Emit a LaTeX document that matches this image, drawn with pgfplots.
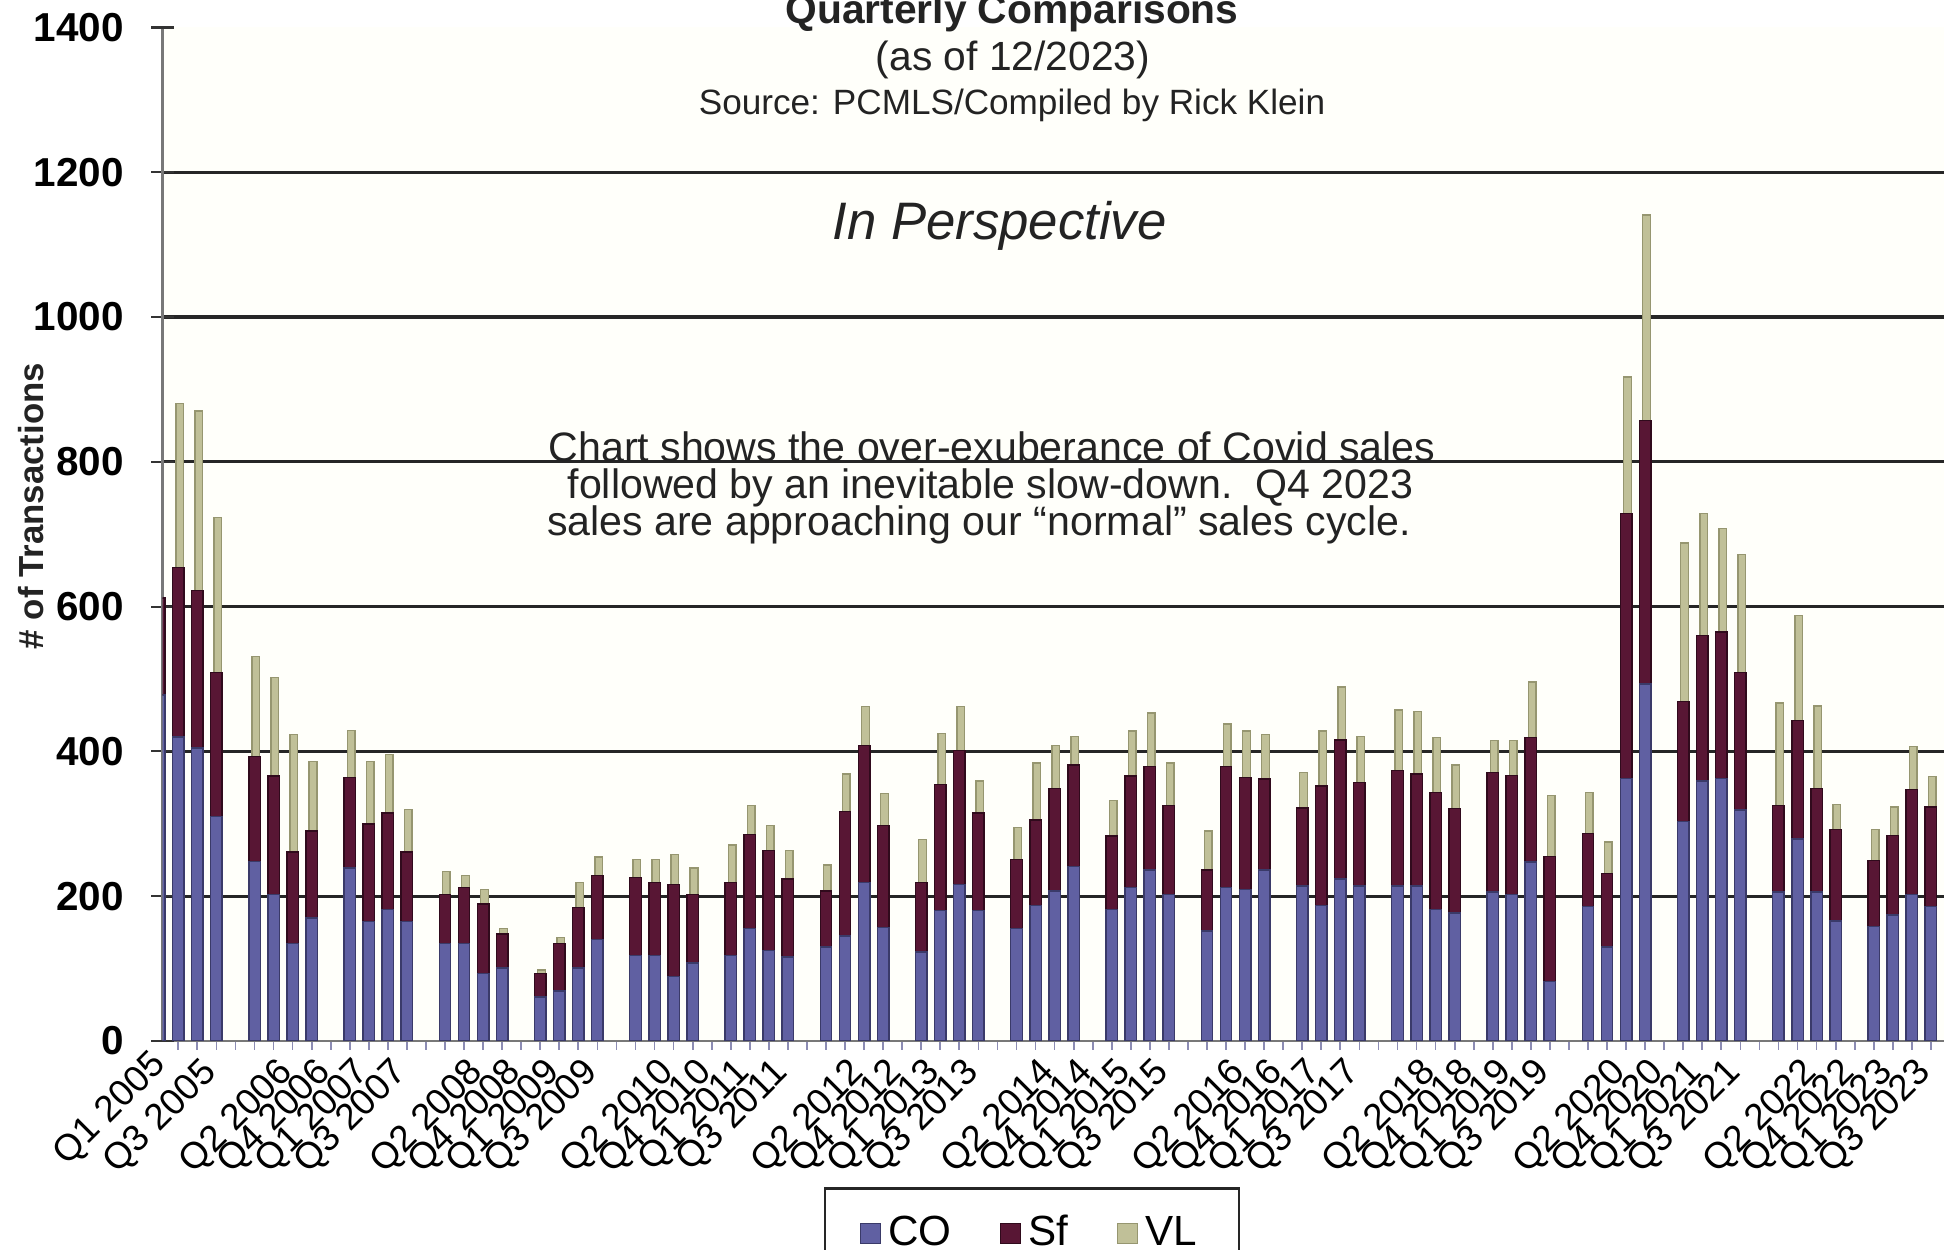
\documentclass[border=0pt]{standalone}
\usepackage{fontspec}
\setmainfont{Liberation Sans}
\usepackage{pgfplots}
\pgfplotsset{compat=1.18}
\usepackage{pgfplotstable}

\definecolor{coF}{RGB}{96,96,162}
\definecolor{coD}{RGB}{58,58,105}
\definecolor{sfF}{RGB}{88,22,52}
\definecolor{sfD}{RGB}{48,10,28}
\definecolor{vlF}{RGB}{192,192,152}
\definecolor{vlD}{RGB}{150,150,112}
\definecolor{txt}{RGB}{35,35,35}

% slot = 5*(year-2005) + (quarter-1); slots 4,9,14,... are the gaps between years
\pgfplotstableread{
x  co  sf  vl
0  478 134 0
1  420 234 227
2  405 217 248
3  310 199 214
5  248 145 138
6  202 164 136
7  135 126 162
8  170 120 96
10 239 125 65
11 165 135 86
12 182 133 81
13 165 96  59
15 135 67  32
16 135 77  17
17 93  96  20
18 101 47  7
20 61  32  5
21 69  66  8
22 101 83  35
23 140 89  25
25 118 108 25
26 118 101 32
27 89  127 42
28 108 94  37
30 118 101 52
31 155 130 40
32 125 138 35
33 116 108 39
35 130 77  36
36 145 172 52
37 219 189 54
38 157 141 44
40 123 96  59
41 180 174 71
42 216 185 61
43 180 135 44
45 155 96  44
46 187 118 79
47 207 142 59
48 241 140 40
50 182 101 49
51 212 154 62
52 236 143 74
53 202 123 59
55 152 84  54
56 212 167 59
57 209 155 64
58 236 126 61
60 214 108 49
61 187 165 76
62 224 192 73
63 214 143 64
65 214 160 83
66 214 155 86
67 182 161 76
68 177 144 60
70 206 165 44
71 202 165 48
72 247 172 77
73 82  173 84
75 186 101 56
76 130 101 44
77 363 366 188
78 493 364 284
80 303 166 219
81 359 201 169
82 363 202 143
83 319 190 163
85 206 119 142
86 279 164 145
87 206 143 114
88 166 126 35
90 158 91  43
91 174 110 39
92 202 145 60
93 186 137 42
}\datatable

\tikzset{xlab/.style={font=\fontsize{10.5}{12}\selectfont, rotate=45, anchor=east, inner sep=0pt}}

\begin{document}
\begin{tikzpicture}
\begin{axis}[
  at={(1.627cm,2.09cm)}, anchor=south west,
  scale only axis, width=17.813cm, height=10.135cm,
  xmin=0.18, xmax=93.69, ymin=0, ymax=1400,
  ybar stacked, bar width=0.6,
  axis x line=bottom, axis y line=left,
  axis line style={-, draw={rgb,255:red,120;green,120;blue,120}, line width=0.8pt},
  axis background/.style={fill={rgb,255:red,255;green,255;blue,250}},
  ytick={200,400,...,1200}, extra y ticks={0,1400}, extra y tick style={grid=none},
  ymajorgrids, major grid style={draw=black!85, line width=0.9pt},
  ytick align=center,
  ytick style={draw=black!80, line width=0.6pt, /pgfplots/major tick length=0.23cm},
  yticklabel style={font=\bfseries\fontsize{11.5}{13}\selectfont, xshift=-0.19cm},
  /pgf/number format/assume math mode=true, /pgf/number format/1000 sep={},
  xtick={2,4,...,92},
  xticklabels={Q3 2005,{},Q2 2006,Q4 2006,Q1 2007,Q3 2007,{},Q2 2008,Q4 2008,Q1 2009,Q3 2009,{},
    Q2 2010,Q4 2010,Q1 2011,Q3 2011,{},Q2 2012,Q4 2012,Q1 2013,Q3 2013,{},
    Q2 2014,Q4 2014,Q1 2015,Q3 2015,{},Q2 2016,Q4 2016,Q1 2017,Q3 2017,{},
    Q2 2018,Q4 2018,Q1 2019,Q3 2019,{},Q2 2020,Q4 2020,Q1 2021,Q3 2021,{},
    Q2 2022,Q4 2022,Q1 2023,Q3 2023},
  minor xtick={1,3,...,93},
  xtick align=outside,
  xtick style={draw={rgb,255:red,140;green,140;blue,180}, line width=0.5pt, /pgfplots/major tick length=0.09cm, /pgfplots/minor tick length=0.09cm},
  xticklabel style={/tikz/xlab, xshift=0.02cm, yshift=-0.18cm},
  legend columns=3,
  legend style={at={(0.488,-0.144)}, anchor=north, draw=black!85, line width=0.8pt,
    font=\fontsize{12}{14}\selectfont, inner xsep=0.35cm, inner ysep=0.2cm,
    /tikz/every even column/.append style={column sep=0.42cm}},
  legend image code/.code={\draw[#1, line width=0.3pt] (0cm,-0.1cm) rectangle (0.2cm,0.1cm);},
]
\addplot[fill=coF, draw=coD, line width=0.4pt] table[x=x, y=co]{\datatable};
\addlegendentry{CO}
\addplot[fill=sfF, draw=sfD, line width=0.4pt] table[x=x, y=sf]{\datatable};
\addlegendentry{Sf}
\addplot[fill=vlF, draw=vlD, line width=0.4pt, bar width=0.4, bar shift=0.07] table[x=x, y=vl]{\datatable};
\addlegendentry{VL}
\coordinate (q1) at (axis cs:0,0);
\end{axis}

\node[xlab] at ([xshift=0.02cm, yshift=-0.18cm]q1) {Q1 2005};

\node[font=\bfseries\fontsize{11.6}{13}\selectfont, anchor=base, text=txt] at (10.12,12.26) {Quarterly Comparisons};
\node[font=\fontsize{11.6}{13}\selectfont, anchor=base, text=txt] at (10.13,11.79) {(as of 12/2023)};
\node[font=\fontsize{10}{12}\selectfont, anchor=base, text=txt] at (10.12,11.35) {Source: PCMLS/Compiled by Rick Klein};
\node[font=\itshape\fontsize{15}{18}\selectfont, anchor=base, text=txt] at (9.995,10.10) {In Perspective};
\node[font=\fontsize{11.7}{13}\selectfont, anchor=base, text=txt] at (9.92,7.88) {Chart shows the over-exuberance of Covid sales};
\node[font=\fontsize{11.7}{13}\selectfont, anchor=base, text=txt] at (9.905,7.515) {followed by an inevitable slow-down.\ \ Q4 2023};
\node[font=\fontsize{11.7}{13}\selectfont, anchor=base, text=txt] at (9.79,7.14) {sales are approaching our “normal” sales cycle.};
\node[font=\bfseries\fontsize{9.9}{12}\selectfont, rotate=90, text=txt] at (0.31,7.44) {\# of Transactions};

\pgfresetboundingbox
\path[use as bounding box] (0,0) rectangle (19.59,12.5);
\end{tikzpicture}
\end{document}
